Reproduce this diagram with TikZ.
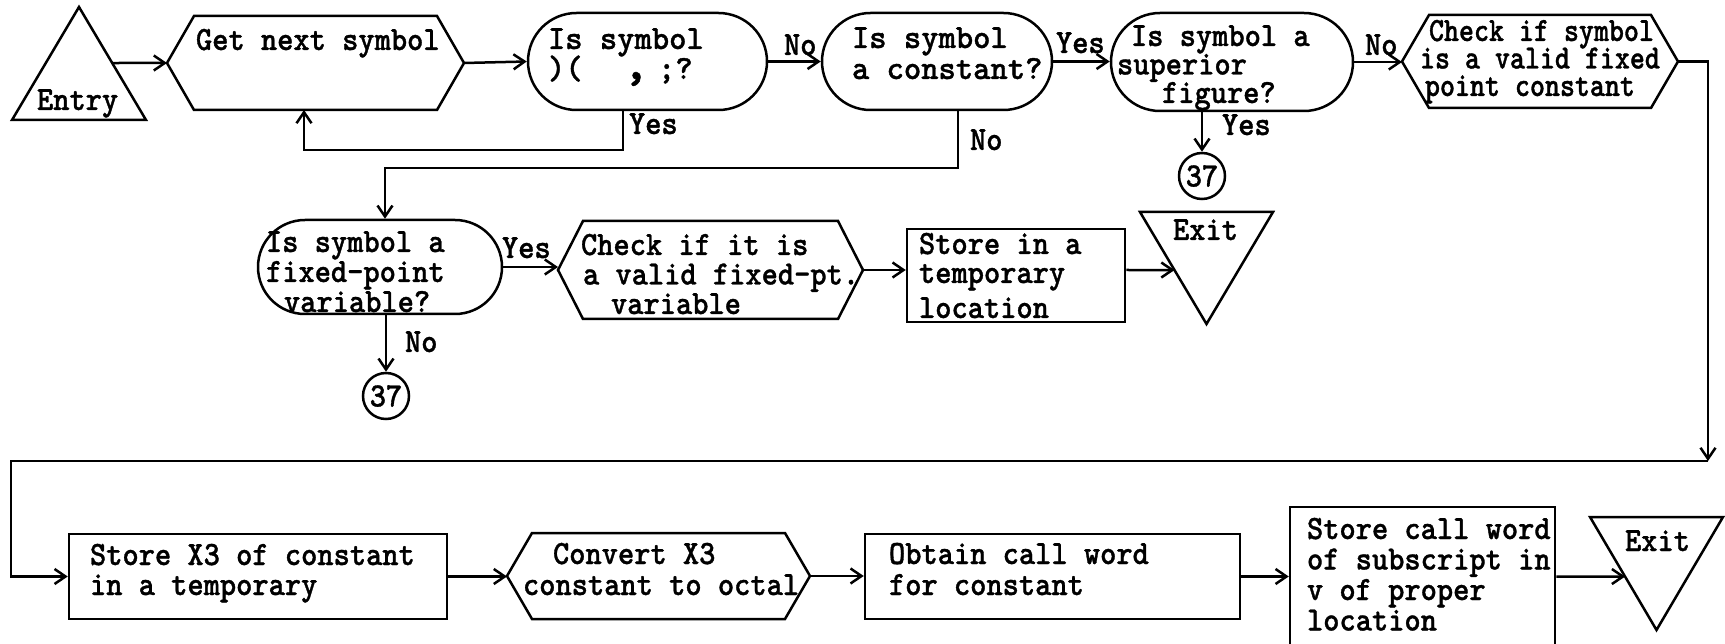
\documentclass[tikz,border=0pt]{standalone}
\usepackage{fontspec}
\usepackage{graphicx}
\usetikzlibrary{arrows.meta,shapes.misc}

% typewriter lettering of the chart, in three set widths
\newfontfamily\twfam{lmmonolt10-bold.otf}[FakeStretch=0.91,FakeBold=1]
\newfontfamily\twwidefam{lmmonolt10-bold.otf}[FakeStretch=0.97,FakeBold=1]
\newfontfamily\twnarrowfam{lmmonolt10-bold.otf}[FakeStretch=0.84,FakeBold=1]
\newcommand\twf{\twfam\fontsize{34pt}{34pt}\selectfont}
\newcommand\twwide{\twwidefam\fontsize{34pt}{34pt}\selectfont}
\newcommand\twnarrow{\twnarrowfam\fontsize{34pt}{34pt}\selectfont}
% block of left-aligned lines whose reference point is the first baseline
\newcommand\lines[2][31pt]{\vtop{\baselineskip=#1\relax\lineskiplimit=-1000pt\lineskip=0pt\halign{##\hfil\cr#2\crcr}}}
% heavy comma of the delimiter test
\newcommand\bigcomma{\makebox[0.5em][c]{\scalebox{1.5}{,}}}
% hexagonal outline around a frame node: #1 node, #2 corner inset
\newcommand\hexpath[2]{\draw[ln] (#1.west) -- ([xshift=#2]#1.north west) -- ([xshift=-#2]#1.north east) -- (#1.east) -- ([xshift=-#2]#1.south east) -- ([xshift=#2]#1.south west) -- cycle;}

\begin{document}
\begin{tikzpicture}[x=1pt,y=-1pt,
  ln/.style={line width=2.5pt, line join=miter},
  conn/.style={ln, -{Straight Barb[length=11pt,width=15pt]}},
  shapeframe/.style 2 args={rectangle, inner sep=0pt, outer sep=0pt, minimum width=#1, minimum height=#2},
  boxnode/.style 2 args={draw, ln, rectangle, inner sep=0pt, minimum width=#1, minimum height=#2},
  term/.style 2 args={draw, ln, rounded rectangle, inner sep=0pt, minimum width=#1, minimum height=#2},
  offpage/.style={draw, ln, circle, inner sep=0pt, minimum size=46pt, font=\twf},
  txt/.style={anchor=base west, inner sep=0pt, outer sep=0pt, font=\twf},
]
\fill[white] (0,0) rectangle (1725,644);
\useasboundingbox (0,0) rectangle (1725,644);

% ---------- first row ----------
\node[shapeframe={134pt}{113pt}] (entry) at (79,63.5) {};
\draw[ln] (entry.north) -- (entry.south east) -- (entry.south west) -- cycle;
\node[txt] (entryT) at (37,110) {Entry};

\node[shapeframe={297pt}{94pt}] (get) at (315.5,63) {};
\hexpath{get}{27pt}
\node[txt] (getT) at (196,50) {Get next symbol};

\node[term={239pt}{97pt}] (q1) at (647.5,61.5) {};
\node[txt, font=\twwide] (q1T) at (548,49) {\lines[30pt]{Is symbol\cr)(\ \ \kern.3em\bigcomma\kern.4em;?}};

\node[term={230pt}{97pt}] (q2) at (937,61.5) {};
\node[txt, font=\twwide] (q2T) at (852,48) {\lines[31pt]{Is symbol\cr a constant?}};

\node[term={242pt}{98pt}] (q3) at (1232,62) {};
\node[txt] (q3T) at (1117,46) {\lines[28.5pt]{\kern14pt Is symbol a\cr superior\cr\kern45pt figure?}};

\node[offpage] (c1) at (1202,176) {37};

\node[shapeframe={276pt}{93pt}] (chk) at (1540,61.5) {};
\hexpath{chk}{27pt}
\node[txt, font=\twnarrow] (chkT) at (1420,41) {\lines[27.5pt]{\kern9pt Check if symbol\cr is a valid fixed\cr\kern5pt point constant}};

% ---------- second row ----------
\node[term={244pt}{94pt}] (q4) at (380,267) {};
\node[txt] (q4T) at (266,252) {\lines[30pt]{Is symbol a\cr fixed-point\cr\kern18pt variable?}};

\node[offpage] (c2) at (386,396) {37};

\node[shapeframe={305pt}{98pt}] (chk2) at (710.5,270) {};
\hexpath{chk2}{25pt}
\node[txt] (chk2T) at (581,255) {\lines[29.5pt]{Check if it is\cr\kern2pt a valid fixed-pt.\cr\kern30pt variable}};

\node[boxnode={218pt}{93pt}] (tmp) at (1016,275.5) {};
\node[txt] (tmpT) at (919,254) {\lines[29pt]{Store in a\cr temporary\cr\noalign{\kern6pt}location}};

\node[shapeframe={133pt}{112pt}] (exit1) at (1206.5,268) {};
\draw[ln] (exit1.north west) -- (exit1.north east) -- (exit1.south) -- cycle;
\node[txt] (exit1T) at (1173,240) {Exit};

% ---------- third row ----------
\node[boxnode={378pt}{85pt}] (sx3) at (258,576.5) {};
\node[txt] (sx3T) at (90,565) {\lines[30pt]{Store X3 of constant\cr in a temporary}};

\node[shapeframe={303pt}{86pt}] (oct) at (658.5,576) {};
\hexpath{oct}{25pt}
\node[txt] (octT) at (523,564) {\lines[31pt]{\kern30pt Convert X3\cr constant to octal}};

\node[boxnode={375pt}{85pt}] (cw) at (1052.5,576.5) {};
\node[txt] (cwT) at (889,564) {\lines[31pt]{Obtain call word\cr for constant}};

\node[boxnode={265pt}{143pt}] (scw) at (1422.5,578.5) {};
\node[txt] (scwT) at (1307,539) {\lines[30.5pt]{Store call word\cr of subscript in\cr v of proper\cr location}};

\node[shapeframe={133pt}{113pt}] (exit2) at (1656.5,573.5) {};
\draw[ln] (exit2.north west) -- (exit2.north east) -- (exit2.south) -- cycle;
\node[txt] (exit2T) at (1625,551) {Exit};

% ---------- connectors ----------
\draw[conn] (intersection of entry.north--entry.south east and get.west--get.east) -- (get.west);
\draw[conn] (get.east) -- (q1.west);
\coordinate (yA) at (623,150);
\coordinate (yB) at (304,150);
\draw[conn] (q1.south -| yA) -- (yA) -- (yB) -- (get.south -| yB);
\draw[conn] (q1.east) -- (q1.east -| q2.west);
\coordinate (nA) at (958,168);
\coordinate (nB) at (385,168);
\draw[conn] (q2.south -| nA) -- (nA) -- (nB) -- (q4.north -| nB);
\draw[conn] (q2.east) -- (q2.east -| q3.west);
\draw[conn] (c1 |- q3.south) -- (c1.north);
\draw[conn] (q3.east) -- (q3.east -| chk.west);
\coordinate (rc) at (1708,461);
\coordinate (lc) at (11,461);
\draw[conn] (chk.east) -| (rc);
\draw[conn] (rc) -- (lc) |- (sx3.west);

\draw[conn] (q4.south -| c2) -- (c2.north);
\draw[conn] (q4.east) -- (q4.east -| chk2.west);
\draw[conn] (chk2.east) -- (chk2.east -| tmp.west);
\coordinate (r2) at (tmp.east |- chk2.east);
\draw[conn] (r2) -- (intersection of r2--chk2.east and exit1.north west--exit1.south);

\draw[conn] (sx3.east) -- (sx3.east -| oct.west);
\draw[conn] (oct.east) -- (oct.east -| cw.west);
\draw[conn] (cw.east) -- (cw.east -| scw.west);
\coordinate (r3) at (scw.east |- cw.east);
\draw[conn] (r3) -- (intersection of r3--cw.east and exit2.north west--exit2.south);

% ---------- branch labels ----------
\node[txt] (lYes1) at (629,134) {Yes};
\node[txt] (lNo1) at (784,55) {No};
\node[txt] (lNo2) at (970,150) {No};
\node[txt] (lYes2) at (1056,53) {Yes};
\node[txt] (lYes3) at (1222,135) {Yes};
\node[txt] (lNo3) at (1365,55) {No};
\node[txt] (lYes4) at (502,258) {Yes};
\node[txt] (lNo4) at (405,352) {No};
\end{tikzpicture}
\end{document}
